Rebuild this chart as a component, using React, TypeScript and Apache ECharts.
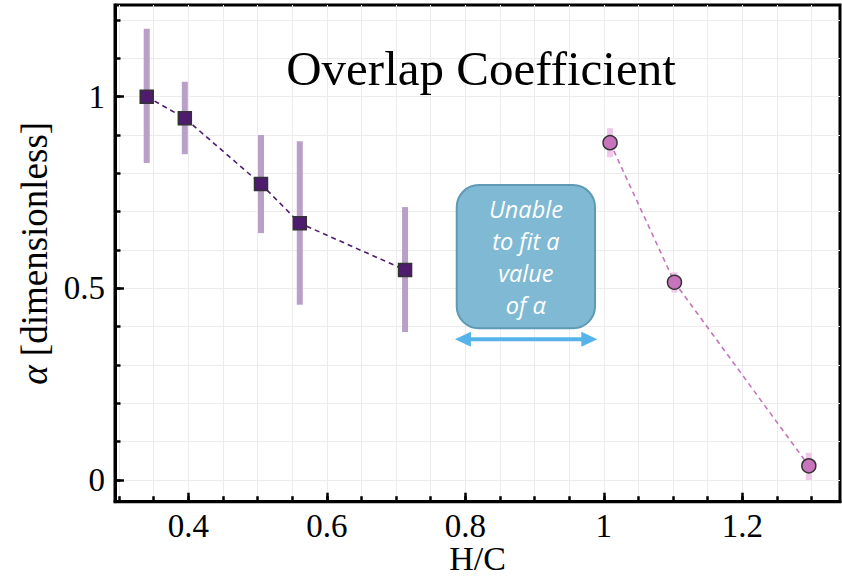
import React, { useEffect, useRef } from "react";
import * as echarts from "echarts";

// ---- data ----
const squareX = [0.34, 0.395, 0.505, 0.561, 0.713];
const squareY = [1.0, 0.944, 0.772, 0.67, 0.548];
const squareLo = [0.827, 0.85, 0.644, 0.457, 0.386];
const squareHi = [1.177, 1.039, 0.9, 0.884, 0.712];

const circleX = [1.009, 1.102, 1.296];
const circleY = [0.88, 0.516, 0.037];
const circleLo = [0.842, 0.489, 0.0];
const circleHi = [0.918, 0.542, 0.071];

const xMajorTicks = [0.4, 0.6, 0.8, 1.0, 1.2];
const xMinorTicks = [0.3, 0.35, 0.4, 0.45, 0.5, 0.55, 0.6, 0.65, 0.7, 0.75, 0.8, 0.85, 0.9, 0.95, 1.0, 1.05, 1.1, 1.15, 1.2, 1.25, 1.3];
const yMajorTicks = [0, 0.5, 1];
const yMinorTicks = [0, 0.1, 0.2, 0.3, 0.4, 0.5, 0.6, 0.7, 0.8, 0.9, 1.0, 1.1, 1.2];

const xRange = [0.2942, 1.341];
const yRange = [-0.0566, 1.2392];

const titleText = "Overlap Coefficient";
const annotationLines = ["Unable", "to fit a", "value", "of α"];
const boxX = [0.7876, 0.9873];
const boxY = [0.3958, 0.7696];
const arrowX = [0.785, 0.9906];
const arrowY = 0.367;

const SERIF = "Liberation Serif";
const SQ_COLOR = "#4e1b6e";
const SQ_ERR = "#b9a0c9";
const CI_COLOR = "#c874bd";
const CI_ERR = "#efc8ea";

function errRender(color: string, w: number) {
  return (params: any, api: any) => {
    const x = api.value(0);
    const lo = api.value(1);
    const hi = api.value(2);
    const p1 = api.coord([x, hi]);
    const p2 = api.coord([x, lo]);
    return {
      type: "rect",
      shape: { x: p1[0] - w / 2, y: p1[1], width: w, height: p2[1] - p1[1] },
      style: { fill: color },
    };
  };
}

export default function App() {
  const ref = useRef<HTMLDivElement>(null);
  useEffect(() => {
    if (!ref.current) return;
    const chart = echarts.init(ref.current, undefined, { renderer: "svg" });
    const labelStyle = { fontFamily: SERIF, fontSize: 33, color: "#000" };
    const option: any = {
      animation: false,
      backgroundColor: "#fff",
      grid: {
        left: 115,
        top: 5,
        right: 2,
        bottom: 77.3,
        containLabel: false,
        outerBoundsMode: "none",
        show: true,
        borderColor: "#000",
        borderWidth: 3,
        backgroundColor: "transparent",
      },
      xAxis: [
        {
          type: "value",
          min: xRange[0],
          max: xRange[1],
          position: "bottom",
          name: "H/C",
          nameLocation: "middle",
          nameMoveOverlap: false,
          nameGap: 42,
          nameTextStyle: { fontFamily: SERIF, fontSize: 34, lineHeight: 30, color: "#000" },
          axisLine: { show: true, onZero: false, lineStyle: { color: "#000", width: 3 } },
          axisTick: { show: true, inside: true, length: 9, lineStyle: { color: "#000", width: 2.5 }, customValues: xMajorTicks },
          axisLabel: { show: true, customValues: xMajorTicks, margin: 8, ...labelStyle },
          splitLine: { show: true, lineStyle: { color: "#dedede", width: 1 } },
        },
        {
          type: "value",
          min: xRange[0],
          max: xRange[1],
          position: "bottom",
          axisLine: { show: false, onZero: false },
          axisTick: { show: true, inside: true, length: 5.5, lineStyle: { color: "#000", width: 2.5 }, customValues: xMinorTicks },
          axisLabel: { show: false },
          splitLine: { show: true, lineStyle: { color: "#ececec", width: 1 } },
        },
      ],
      yAxis: [
        {
          type: "value",
          min: yRange[0],
          max: yRange[1],
          position: "left",
          name: "{i|α} [dimensionless]",
          nameLocation: "middle",
          nameGap: 58,
          nameTextStyle: {
            fontFamily: SERIF,
            fontSize: 37,
            color: "#000",
            rich: { i: { fontFamily: SERIF, fontSize: 37, fontStyle: "italic", color: "#000" } },
          },
          axisLine: { show: true, onZero: false, lineStyle: { color: "#000", width: 3 } },
          axisTick: { show: true, inside: true, length: 9, lineStyle: { color: "#000", width: 2.5 }, customValues: yMajorTicks },
          axisLabel: { show: true, customValues: yMajorTicks, margin: 10, ...labelStyle },
          splitLine: { show: true, lineStyle: { color: "#dedede", width: 1 } },
        },
        {
          type: "value",
          min: yRange[0],
          max: yRange[1],
          position: "left",
          axisLine: { show: false, onZero: false },
          axisTick: { show: true, inside: true, length: 5.5, lineStyle: { color: "#000", width: 2.5 }, customValues: yMinorTicks },
          axisLabel: { show: false },
          splitLine: { show: true, lineStyle: { color: "#ececec", width: 1 } },
        },
      ],
      series: [
        {
          type: "custom",
          xAxisIndex: 0,
          yAxisIndex: 0,
          renderItem: errRender(SQ_ERR, 6),
          data: squareX.map((x, i) => [x, squareLo[i], squareHi[i]]),
          encode: { x: 0, y: [1, 2] },
          z: 1,
          silent: true,
        },
        {
          type: "custom",
          xAxisIndex: 0,
          yAxisIndex: 0,
          renderItem: errRender(CI_ERR, 6),
          data: circleX.map((x, i) => [x, circleLo[i], circleHi[i]]),
          encode: { x: 0, y: [1, 2] },
          z: 1,
          silent: true,
        },
        {
          type: "line",
          xAxisIndex: 0,
          yAxisIndex: 0,
          data: squareX.map((x, i) => [x, squareY[i]]),
          symbol: "rect",
          symbolSize: 13,
          showAllSymbol: true,
          itemStyle: { color: SQ_COLOR, borderColor: "#333", borderWidth: 1.5 },
          lineStyle: { color: SQ_COLOR, width: 1.6, type: [5, 4] },
          z: 3,
        },
        {
          type: "line",
          xAxisIndex: 0,
          yAxisIndex: 0,
          data: circleX.map((x, i) => [x, circleY[i]]),
          symbol: "circle",
          symbolSize: 14,
          showAllSymbol: true,
          itemStyle: { color: CI_COLOR, borderColor: "#333", borderWidth: 1.5 },
          lineStyle: { color: CI_COLOR, width: 1.6, type: [5, 4] },
          z: 3,
        },
      ],
    };
    chart.setOption(option);

    const toPx = (x: number, y: number) =>
      chart.convertToPixel({ xAxisIndex: 0, yAxisIndex: 0 } as any, [x, y]) as number[];
    const [bx1, by1] = toPx(boxX[0], boxY[1]);
    const [bx2, by2] = toPx(boxX[1], boxY[0]);
    const [ax1, ay] = toPx(arrowX[0], arrowY);
    const [ax2] = toPx(arrowX[1], arrowY);
    const headL = 16;
    const headH = 7.5;
    const arrowColor = "#55b3e9";
    const plotCenter = (toPx(xRange[0], 0)[0] + toPx(xRange[1], 0)[0]) / 2;

    chart.setOption({
      graphic: [
        {
          type: "text",
          x: plotCenter + 3.5,
          y: 68.5,
          z: 20,
          style: {
            text: titleText,
            fontFamily: SERIF,
            fontSize: 49,
            fill: "#000",
            align: "center",
            verticalAlign: "middle",
            textAlign: "center",
            textVerticalAlign: "middle",
          },
        },
        {
          type: "rect",
          z: 20,
          shape: { x: bx1, y: by1, width: bx2 - bx1, height: by2 - by1, r: 22 },
          style: { fill: "#80b9d3", stroke: "#5e9ab3", lineWidth: 2 },
        },
        {
          type: "text",
          z: 21,
          x: (bx1 + bx2) / 2,
          y: (by1 + by2) / 2,
          style: {
            text: annotationLines.join("\n"),
            fontFamily: "Open Sans",
            fontStyle: "italic",
            fontSize: 23.5,
            lineHeight: 32,
            fill: "#fff",
            align: "center",
            verticalAlign: "middle",
            textAlign: "center",
            textVerticalAlign: "middle",
          },
        },
        {
          type: "line",
          z: 20,
          shape: { x1: ax1 + headL - 1, y1: ay, x2: ax2 - headL + 1, y2: ay },
          style: { stroke: arrowColor, lineWidth: 4 },
        },
        {
          type: "polygon",
          z: 20,
          shape: { points: [[ax1, ay], [ax1 + headL, ay - headH], [ax1 + headL, ay + headH]] },
          style: { fill: arrowColor },
        },
        {
          type: "polygon",
          z: 20,
          shape: { points: [[ax2, ay], [ax2 - headL, ay - headH], [ax2 - headL, ay + headH]] },
          style: { fill: arrowColor },
        },
      ],
    });

    return () => chart.dispose();
  }, []);
  return <div ref={ref} style={{ width: 842, height: 579, position: "absolute", left: 0, top: 0 }} />;
}
